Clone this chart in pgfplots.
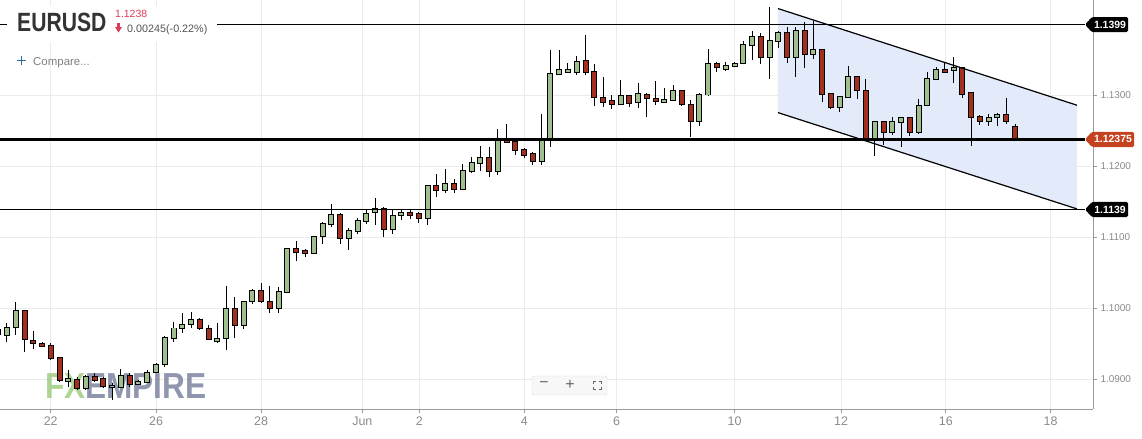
\documentclass[border=0pt]{standalone}
\usepackage{pgfplots}
\pgfplotsset{compat=1.18}
\usepackage{pgfplotstable}
\usepackage{fontspec}
\setmainfont{Liberation Sans}

\definecolor{upcol}{HTML}{9FBF8F}
\definecolor{downcol}{HTML}{A3301F}
\definecolor{chanfill}{HTML}{E3EAFA}
\definecolor{gridgray}{HTML}{EBEBEB}
\definecolor{axisgray}{HTML}{9A9A9A}
\definecolor{labelgray}{HTML}{8A8A8A}
\definecolor{tagred}{HTML}{C4421E}
\definecolor{titlegray}{HTML}{333333}
\definecolor{pricered}{HTML}{DC3C5A}
\definecolor{cmpblue}{HTML}{2C6AA0}
\definecolor{fxg}{HTML}{98C978}
\definecolor{fxb}{HTML}{737C9A}

% 4h candles, EURUSD: index, open, high, low, close
\pgfplotstableread{
i o h l c
0 1.09694 1.09722 1.09582 1.09638
1 1.09624 1.09793 1.09525 1.09736
2 1.09736 1.10088 1.09624 1.09962
3 1.09962 1.09975 1.09385 1.09568
4 1.09553 1.09680 1.09427 1.09511
5 1.09497 1.09525 1.09455 1.09469
6 1.09483 1.09511 1.09272 1.09300
7 1.09300 1.09314 1.08963 1.08991
8 1.08977 1.09131 1.08892 1.09005
9 1.08991 1.09033 1.08850 1.08878
10 1.08878 1.09061 1.08850 1.09033
11 1.09033 1.09089 1.08963 1.08991
12 1.09019 1.09033 1.08878 1.08906
13 1.08892 1.08948 1.08709 1.08920
14 1.08892 1.09146 1.08878 1.09047
15 1.09047 1.09089 1.08892 1.08934
16 1.08934 1.08991 1.08920 1.08963
17 1.08963 1.09131 1.08948 1.09089
18 1.09103 1.09230 1.09089 1.09202
19 1.09216 1.09610 1.09174 1.09582
20 1.09582 1.09807 1.09525 1.09722
21 1.09722 1.09933 1.09652 1.09765
22 1.09779 1.09947 1.09722 1.09835
23 1.09835 1.09863 1.09694 1.09722
24 1.09708 1.09765 1.09553 1.09568
25 1.09539 1.09793 1.09511 1.09568
26 1.09582 1.10313 1.09413 1.09990
27 1.09990 1.10158 1.09582 1.09765
28 1.09765 1.10102 1.09708 1.10088
29 1.10102 1.10271 1.10060 1.10243
30 1.10243 1.10355 1.10074 1.10102
31 1.10088 1.10313 1.09933 1.10004
32 1.10004 1.10299 1.09933 1.10229
33 1.10229 1.10848 1.10215 1.10834
34 1.10834 1.10946 1.10665 1.10792
35 1.10806 1.10834 1.10721 1.10778
36 1.10778 1.11017 1.10764 1.11003
37 1.11017 1.11214 1.10904 1.11186
38 1.11186 1.11467 1.11143 1.11312
39 1.11312 1.11340 1.10904 1.10989
40 1.10989 1.11129 1.10820 1.11087
41 1.11087 1.11270 1.11045 1.11228
42 1.11228 1.11397 1.11186 1.11326
43 1.11354 1.11551 1.11172 1.11397
44 1.11397 1.11425 1.11003 1.11115
45 1.11115 1.11397 1.11045 1.11312
46 1.11312 1.11382 1.11242 1.11340
47 1.11340 1.11397 1.11256 1.11312
48 1.11326 1.11354 1.11200 1.11270
49 1.11270 1.11734 1.11172 1.11720
50 1.11720 1.11889 1.11565 1.11664
51 1.11664 1.11959 1.11622 1.11748
52 1.11748 1.11819 1.11622 1.11678
53 1.11678 1.12030 1.11664 1.11931
54 1.11931 1.12128 1.11903 1.12044
55 1.12044 1.12283 1.11931 1.12114
56 1.12114 1.12269 1.11847 1.11931
57 1.11931 1.12522 1.11875 1.12381
58 1.12381 1.12592 1.12325 1.12339
59 1.12339 1.12395 1.12156 1.12227
60 1.12227 1.12255 1.12114 1.12156
61 1.12170 1.12199 1.12016 1.12072
62 1.12072 1.12733 1.12016 1.12381
63 1.12381 1.13634 1.12269 1.13296
64 1.13296 1.13634 1.13282 1.13352
65 1.13324 1.13451 1.13310 1.13352
66 1.13324 1.13549 1.13282 1.13465
67 1.13479 1.13845 1.13282 1.13324
68 1.13324 1.13437 1.12846 1.12972
69 1.12958 1.13254 1.12832 1.12902
70 1.12916 1.13001 1.12803 1.12874
71 1.12874 1.13212 1.12860 1.12986
72 1.12986 1.13001 1.12832 1.12888
73 1.12902 1.13169 1.12818 1.13014
74 1.13014 1.13029 1.12691 1.12958
75 1.12944 1.13197 1.12860 1.12916
76 1.12902 1.13099 1.12888 1.12930
77 1.12930 1.13141 1.12916 1.13057
78 1.13057 1.13071 1.12846 1.12874
79 1.12860 1.12930 1.12410 1.12635
80 1.12635 1.13029 1.12564 1.13001
81 1.13001 1.13648 1.12986 1.13437
82 1.13437 1.13465 1.13324 1.13394
83 1.13366 1.13465 1.13338 1.13408
84 1.13408 1.13465 1.13394 1.13437
85 1.13451 1.13760 1.13437 1.13704
86 1.13704 1.13901 1.13493 1.13816
87 1.13816 1.13873 1.13437 1.13535
88 1.13535 1.14239 1.13226 1.13760
89 1.13760 1.13901 1.13662 1.13873
90 1.13873 1.13957 1.13451 1.13535
91 1.13535 1.13957 1.13254 1.13901
92 1.13901 1.14027 1.13380 1.13577
93 1.13577 1.14042 1.13507 1.13634
94 1.13634 1.13648 1.12902 1.13014
95 1.13014 1.13029 1.12803 1.12832
96 1.12832 1.12986 1.12761 1.12972
97 1.12972 1.13408 1.12958 1.13254
98 1.13254 1.13268 1.12944 1.13071
99 1.13057 1.13226 1.12353 1.12396
100 1.12396 1.12621 1.12142 1.12621
101 1.12621 1.12621 1.12297 1.12480
102 1.12480 1.12691 1.12438 1.12621
103 1.12621 1.12677 1.12269 1.12677
104 1.12677 1.12677 1.12424 1.12480
105 1.12480 1.12944 1.12452 1.12846
106 1.12860 1.13324 1.12860 1.13226
107 1.13226 1.13394 1.13212 1.13352
108 1.13352 1.13465 1.13310 1.13324
109 1.13352 1.13535 1.13169 1.13380
110 1.13380 1.13394 1.12958 1.13014
111 1.13029 1.13029 1.12283 1.12691
112 1.12691 1.12719 1.12578 1.12635
113 1.12635 1.12733 1.12564 1.12677
114 1.12691 1.12747 1.12564 1.12719
115 1.12719 1.12958 1.12592 1.12635
116 1.12550 1.12592 1.12380 1.12380
}\candles

\begin{document}
\begin{tikzpicture}
\path[use as bounding box] (0,0) rectangle (1142bp,-439bp);
\begin{axis}[
    at={(0,0)}, anchor=north west,
    scale only axis, width=1093bp, height=409bp,
    xmin=0.202, xmax=124.9,
    ymin=1.085824, ymax=1.143365,
    axis x line*=bottom, axis y line*=right,
    axis line style={draw=axisgray, line width=0.8bp, -},
    xtick={5.99,18.0,29.98,41.54,48.04,60.02,70.54,84.0,96.15,108.1,120.05},
    xticklabels={22,26,28,Jun,2,4,6,10,12,16,18},
    ytick={1.09,1.10,1.11,1.12,1.13},
    extra y ticks={1.14}, extra y tick labels={},
    scaled y ticks=false,
    yticklabel={\pgfmathprintnumber[fixed,fixed zerofill,precision=4]{\tick}},
    /pgf/number format/assume math mode=true,
    grid=major, major grid style={draw=gridgray, line width=0.8bp},
    tick align=outside, major tick length=4bp,
    tick style={draw=axisgray, line width=0.8bp},
    ticklabel style={text=labelgray},
    xticklabel style={font=\fontsize{12.5}{13}\selectfont},
    yticklabel style={font=\fontsize{10}{12}\selectfont, anchor=west},
    candle/.style={draw=none, mark=none, forget plot,
      error bars/y dir=both, error bars/y explicit, error bars/error mark=none},
  ]
  % falling channel
  \addplot[draw=none, fill=chanfill, forget plot] coordinates {
    (88.96,1.14216) (123.08,1.12856) (123.08,1.11397) (88.96,1.12752)};

  % watermark, under the candles
  \node[anchor=base west, inner sep=0, opacity=0.8, font=\fontsize{36.3}{38}\selectfont\bfseries]
    at (axis cs:5.336,1.08737) {\scalebox{0.873}[1]{\textcolor{fxg}{FX}\textcolor{fxb}{EMPIRE}}};

  % wicks
  \addplot[candle, error bars/error bar style={draw=black, line width=1bp}]
    table[x=i, y expr={(\thisrow{h}+\thisrow{l})/2},
          y error expr={(\thisrow{h}-\thisrow{l})/2}] {\candles};
  % body outlines
  \addplot[candle, error bars/error bar style={draw=black, line width=6bp}]
    table[x=i, y expr={(\thisrow{o}+\thisrow{c})/2},
          y error expr={abs(\thisrow{o}-\thisrow{c})/2+0.00008}] {\candles};
  % rising bodies
  \addplot[candle, error bars/error bar style={draw=upcol, line width=4bp},
    restrict expr to domain={\thisrow{c}-\thisrow{o}}{0:1}]
    table[x=i, y expr={(\thisrow{o}+\thisrow{c})/2},
          y error expr={max(abs(\thisrow{o}-\thisrow{c})/2-0.00006,0)}] {\candles};
  % falling bodies
  \addplot[candle, error bars/error bar style={draw=downcol, line width=4bp},
    restrict expr to domain={\thisrow{o}-\thisrow{c}}{0:1}]
    table[x=i, y expr={(\thisrow{o}+\thisrow{c})/2},
          y error expr={max(abs(\thisrow{o}-\thisrow{c})/2-0.00006,0)}] {\candles};

  % levels
  \addplot[black, line width=1bp, forget plot] coordinates {(0.2,1.1399) (124.0,1.1399)};
  \addplot[black, line width=3bp, forget plot] coordinates {(0.2,1.12375) (124.0,1.12375)};
  \addplot[black, line width=1bp, forget plot] coordinates {(0.2,1.1139) (124.0,1.1139)};
  \addplot[black, line width=1.2bp, forget plot] coordinates {(88.96,1.14216) (123.08,1.12856)};
  \addplot[black, line width=1.2bp, forget plot] coordinates {(88.96,1.12752) (123.08,1.11397)};
\end{axis}

\begin{scope}[x=1bp, y=-1bp]
  % price tags
  \fill[black, rounded corners=1.5bp] (1085,24.6) -- (1092,17) -- (1128,17) -- (1128,32.2) -- (1092,32.2) -- cycle;
  \node[text=white, font=\fontsize{10.5}{12}\selectfont\bfseries] at (1110,24.6) {1.1399};
  \fill[tagred, rounded corners=1.5bp] (1085,139.4) -- (1092,131.8) -- (1134,131.8) -- (1134,147) -- (1092,147) -- cycle;
  \node[text=white, font=\fontsize{10.5}{12}\selectfont\bfseries] at (1113,139.4) {1.12375};
  \fill[black, rounded corners=1.5bp] (1085,209.5) -- (1092,201.9) -- (1128,201.9) -- (1128,217.1) -- (1092,217.1) -- cycle;
  \node[text=white, font=\fontsize{10.5}{12}\selectfont\bfseries] at (1110,209.5) {1.1139};

  % header
  \fill[white] (7,6) rectangle (217,42);
  \node[anchor=base west, inner sep=0, text=titlegray, font=\fontsize{26.5}{28}\selectfont\bfseries]
    at (17,31.7) {\scalebox{0.8}[1]{EURUSD}};
  \node[anchor=base west, inner sep=0, text=pricered, font=\fontsize{10.5}{11}\selectfont]
    at (115,17.8) {1.1238};
  \fill[pricered] (117,22.5) rectangle (120,27.5);
  \fill[pricered] (115,27) -- (122,27) -- (118.5,32.5) -- cycle;
  \node[anchor=base west, inner sep=0, text=black!67, font=\fontsize{10.8}{11}\selectfont]
    at (127,32.3) {0.00245(-0.22\%)};
  \draw[cmpblue, line width=1.6bp] (17,60.5) -- (26,60.5) (21.5,56) -- (21.5,65);
  \node[anchor=base west, inner sep=0, text=black!50, font=\fontsize{11.5}{12}\selectfont]
    at (33,65) {Compare...};

  % zoom control
  \draw[draw=black!13, fill=black!3, rounded corners=2bp] (532,376) rectangle (607,395);
  \node[text=black!60, font=\fontsize{16}{16}\selectfont] at (544,385) {−};
  \node[text=black!60, font=\fontsize{16}{16}\selectfont] at (570,385) {+};
  \draw[black!60, line width=1bp]
    (593,383.5) -- (593,381) -- (595.5,381)
    (598.5,381) -- (601,381) -- (601,383.5)
    (601,386.5) -- (601,389) -- (598.5,389)
    (595.5,389) -- (593,389) -- (593,386.5);
\end{scope}
\end{tikzpicture}
\end{document}
